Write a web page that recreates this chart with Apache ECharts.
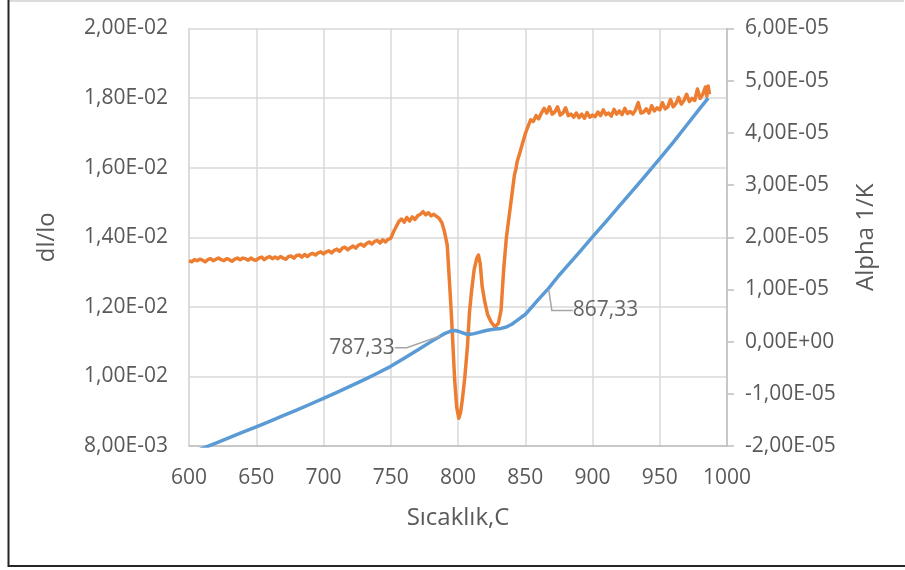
<!DOCTYPE html>
<html>
<head>
<meta charset="utf-8">
<script src="https://cdn.jsdelivr.net/npm/echarts@6/dist/echarts.min.js"></script>
<style>
html,body{margin:0;padding:0;background:#fff;}
#chart{width:905px;height:570px;}
</style>
</head>
<body>
<div id="chart"></div>
<script>
// ---- Data ----
const xTickLabels = ['600','650','700','750','800','850','900','950','1000'];
const leftTickLabels = ['8,00E-03','1,00E-02','1,20E-02','1,40E-02','1,60E-02','1,80E-02','2,00E-02'];
const rightTickLabels = ['-2,00E-05','-1,00E-05','0,00E+00','1,00E-05','2,00E-05','3,00E-05','4,00E-05','5,00E-05','6,00E-05'];

// dl/lo (left axis)
const dlX = [600,610,620,630,640,650,660,670,680,690,700,710,720,730,740,750,760,770,780,787.33,790,795,798,800,803,806,809,812,815,818,821,824,828,832,836,840,844,847,850,855,860,867.33,875,880,890,900,910,920,930,940,950,960,970,980,986];
const dlY = [0.00777,0.00793,0.00808,0.00824,0.00840,0.00855,0.00871,0.00887,0.00903,0.00920,0.00937,0.00954,0.00972,0.00990,0.01009,0.01029,0.01052,0.01076,0.01100,0.01117,0.01123,0.01131,0.01132,0.01130,0.01126,0.01122,0.01121,0.01123,0.01126,0.01129,0.01132,0.01134,0.01136,0.01138,0.01142,0.01150,0.01161,0.01170,0.01178,0.01200,0.01222,0.01253,0.01290,0.01312,0.01356,0.01401,0.01445,0.01490,0.01535,0.01580,0.01626,0.01673,0.01722,0.01771,0.01800];

// Alpha 1/K (right axis)
const alphaX = [600,602,604,606,608,610,612,614,616,618,620,622,624,626,628,630,632,634,636,638,640,642,644,646,648,650,652,654,656,658,660,662,664,666,668,670,672,674,676,678,680,682,684,686,688,690,692,694,696,698,700,702,704,706,708,710,712,714,716,718,720,722,724,726,728,730,732,734,736,738,740,742,744,746,748,750,752,754,756,758,760,762,764,766,768,770,772,774,776,778,780,782,784,786,788,790,792,794,795,796,797.5,799,800.6,802,803.5,805,807,808.5,810,812,814,815.2,816.5,818,820,822,824.5,827.5,830,832,834,836,838,840,841,842,843,844,845,846,848,850,851,852,853,854,856,858,860,862,864,866,868,870,872,874,876,878,880,882,884,886,888,890,892,894,896,898,900,902,904,906,908,910,912,914,916,918,920,922,924,926,928,930,932,934,936,938,940,942,944,946,948,950,952,954,956,958,960,962,964,966,968,970,972,974,976,978,980,982,984,985,986,987];
const alphaY = [1.55e-5,1.53e-5,1.57e-5,1.55e-5,1.58e-5,1.56e-5,1.53e-5,1.57e-5,1.59e-5,1.55e-5,1.58e-5,1.60e-5,1.57e-5,1.55e-5,1.59e-5,1.57e-5,1.54e-5,1.58e-5,1.60e-5,1.57e-5,1.60e-5,1.59e-5,1.56e-5,1.60e-5,1.57e-5,1.56e-5,1.60e-5,1.62e-5,1.57e-5,1.61e-5,1.63e-5,1.59e-5,1.62e-5,1.59e-5,1.63e-5,1.60e-5,1.58e-5,1.63e-5,1.64e-5,1.60e-5,1.65e-5,1.66e-5,1.62e-5,1.67e-5,1.63e-5,1.67e-5,1.69e-5,1.66e-5,1.70e-5,1.72e-5,1.68e-5,1.72e-5,1.74e-5,1.70e-5,1.75e-5,1.77e-5,1.73e-5,1.79e-5,1.81e-5,1.76e-5,1.80e-5,1.83e-5,1.79e-5,1.85e-5,1.87e-5,1.83e-5,1.88e-5,1.91e-5,1.87e-5,1.92e-5,1.94e-5,1.89e-5,1.95e-5,1.91e-5,1.96e-5,1.98e-5,2.10e-5,2.20e-5,2.30e-5,2.35e-5,2.29e-5,2.38e-5,2.31e-5,2.39e-5,2.34e-5,2.41e-5,2.44e-5,2.49e-5,2.43e-5,2.47e-5,2.41e-5,2.44e-5,2.40e-5,2.36e-5,2.28e-5,2.10e-5,1.85e-5,1.00e-5,0.55e-5,0.05e-5,-0.73e-5,-1.25e-5,-1.47e-5,-1.35e-5,-1.05e-5,-0.70e-5,-0.10e-5,0.55e-5,0.95e-5,1.38e-5,1.60e-5,1.66e-5,1.50e-5,1.05e-5,0.75e-5,0.52e-5,0.38e-5,0.28e-5,0.35e-5,0.60e-5,1.40e-5,2.00e-5,2.40e-5,2.80e-5,3.00e-5,3.20e-5,3.30e-5,3.45e-5,3.42e-5,3.62e-5,3.80e-5,3.98e-5,4.05e-5,4.12e-5,4.10e-5,4.25e-5,4.22e-5,4.33e-5,4.27e-5,4.38e-5,4.47e-5,4.38e-5,4.50e-5,4.36e-5,4.40e-5,4.50e-5,4.34e-5,4.38e-5,4.48e-5,4.33e-5,4.36e-5,4.30e-5,4.38e-5,4.29e-5,4.36e-5,4.28e-5,4.39e-5,4.30e-5,4.34e-5,4.31e-5,4.40e-5,4.33e-5,4.44e-5,4.35e-5,4.38e-5,4.32e-5,4.45e-5,4.36e-5,4.42e-5,4.35e-5,4.47e-5,4.37e-5,4.41e-5,4.36e-5,4.44e-5,4.58e-5,4.38e-5,4.40e-5,4.46e-5,4.38e-5,4.52e-5,4.42e-5,4.48e-5,4.44e-5,4.58e-5,4.46e-5,4.50e-5,4.64e-5,4.50e-5,4.56e-5,4.68e-5,4.55e-5,4.62e-5,4.74e-5,4.60e-5,4.66e-5,4.62e-5,4.84e-5,4.66e-5,4.74e-5,4.88e-5,4.70e-5,4.90e-5,4.74e-5];

// Annotated points on dl/lo curve
const annX = [787.33, 867.33];
const annY = [0.01117, 0.01253];

// ---- Chart ----
const FONT = 'Open Sans';
const TXT = '#595959';
const chart = echarts.init(document.getElementById('chart'), null, {renderer: 'canvas'});

const zip = (a, b) => a.map((v, i) => [v, b[i]]);

chart.setOption({
  animation: false,
  backgroundColor: '#fff',
  textStyle: {fontFamily: FONT},
  grid: {left: 189, right: 178, top: 28.5, bottom: 124, containLabel: false},
  xAxis: {
    type: 'value', min: 600, max: 1000, interval: 50,
    name: 'Sıcaklık,C', nameLocation: 'middle', nameGap: 60, nameMoveOverlap: false,
    nameTextStyle: {color: TXT, fontSize: 24, fontFamily: FONT},
    axisLine: {show: true, onZero: false, lineStyle: {color: '#bfbfbf', width: 1.5}},
    axisTick: {show: false},
    splitLine: {show: true, lineStyle: {color: '#d9d9d9', width: 1.5}},
    axisLabel: {color: TXT, fontSize: 21, fontFamily: FONT, margin: 22,
      formatter: v => xTickLabels[Math.round((v - 600) / 50)]}
  },
  yAxis: [{
    type: 'value', min: 0.008, max: 0.02, interval: 0.002, position: 'left',
    name: 'dl/lo', nameLocation: 'middle', nameGap: 130, nameRotate: 90, nameMoveOverlap: false,
    nameTextStyle: {color: TXT, fontSize: 24, fontFamily: FONT},
    axisLine: {show: true, lineStyle: {color: '#d9d9d9', width: 1.5}},
    axisTick: {show: false},
    splitLine: {show: true, lineStyle: {color: '#d9d9d9', width: 1.5}},
    axisLabel: {color: TXT, fontSize: 21, fontFamily: FONT, margin: 21,
      formatter: v => leftTickLabels[Math.round((v - 0.008) / 0.002)]}
  }, {
    type: 'value', min: -2e-5, max: 6e-5, interval: 1e-5, position: 'right',
    name: 'Alpha 1/K', nameLocation: 'middle', nameGap: 127, nameRotate: 90, nameMoveOverlap: false,
    nameTextStyle: {color: TXT, fontSize: 24, fontFamily: FONT},
    axisLine: {show: true, lineStyle: {color: '#bfbfbf', width: 1.5}},
    axisTick: {show: true, inside: false, length: 7, lineStyle: {color: '#bfbfbf', width: 1.5}},
    splitLine: {show: false},
    axisLabel: {color: TXT, fontSize: 21, fontFamily: FONT, margin: 18,
      formatter: v => rightTickLabels[Math.round((v + 2e-5) / 1e-5)]}
  }],
  series: [{
    name: 'dl/lo', type: 'line', yAxisIndex: 0, showSymbol: false, smooth: false,
    lineStyle: {color: '#5B9BD5', width: 3.5, join: 'round'}, itemStyle: {color: '#5B9BD5'},
    clip: true, z: 3,
    data: zip(dlX, dlY)
  }, {
    name: 'Alpha 1/K', type: 'line', yAxisIndex: 1, showSymbol: false, smooth: false,
    lineStyle: {color: '#ED7D31', width: 3.5, join: 'round'}, itemStyle: {color: '#ED7D31'},
    clip: true, z: 2,
    data: zip(alphaX, alphaY)
  }, {
    name: 'ann', type: 'scatter', yAxisIndex: 0, symbolSize: 2,
    itemStyle: {color: 'rgba(0,0,0,0)'}, z: 5,
    data: zip(annX, annY).map((d, i) => i === 1
      ? {value: d, labelLine: {show: true, length2: 21, lineStyle: {color: '#a6a6a6', width: 1.5}}}
      : {value: d}),
    label: {show: true, color: '#404040', fontSize: 21, fontFamily: FONT,
      formatter: p => String(p.value[0]).replace('.', ',')},
    labelLine: {show: true, length2: 12, lineStyle: {color: '#a6a6a6', width: 1.5}},
    labelLayout: p => p.dataIndex === 0 ? {dx: -79, dy: 12} : {dx: 57, dy: 22}
  }],
  graphic: [
    {type: 'line', shape: {x1: 8, y1: 1, x2: 904, y2: 1}, style: {stroke: '#d0d0d0', lineWidth: 1.5}, silent: true},
    {type: 'line', shape: {x1: 8.5, y1: 0, x2: 8.5, y2: 567}, style: {stroke: '#262626', lineWidth: 2}, silent: true},
    {type: 'line', shape: {x1: 8, y1: 566, x2: 905, y2: 566}, style: {stroke: '#262626', lineWidth: 2}, silent: true}
  ]
});
</script>
</body>
</html>
